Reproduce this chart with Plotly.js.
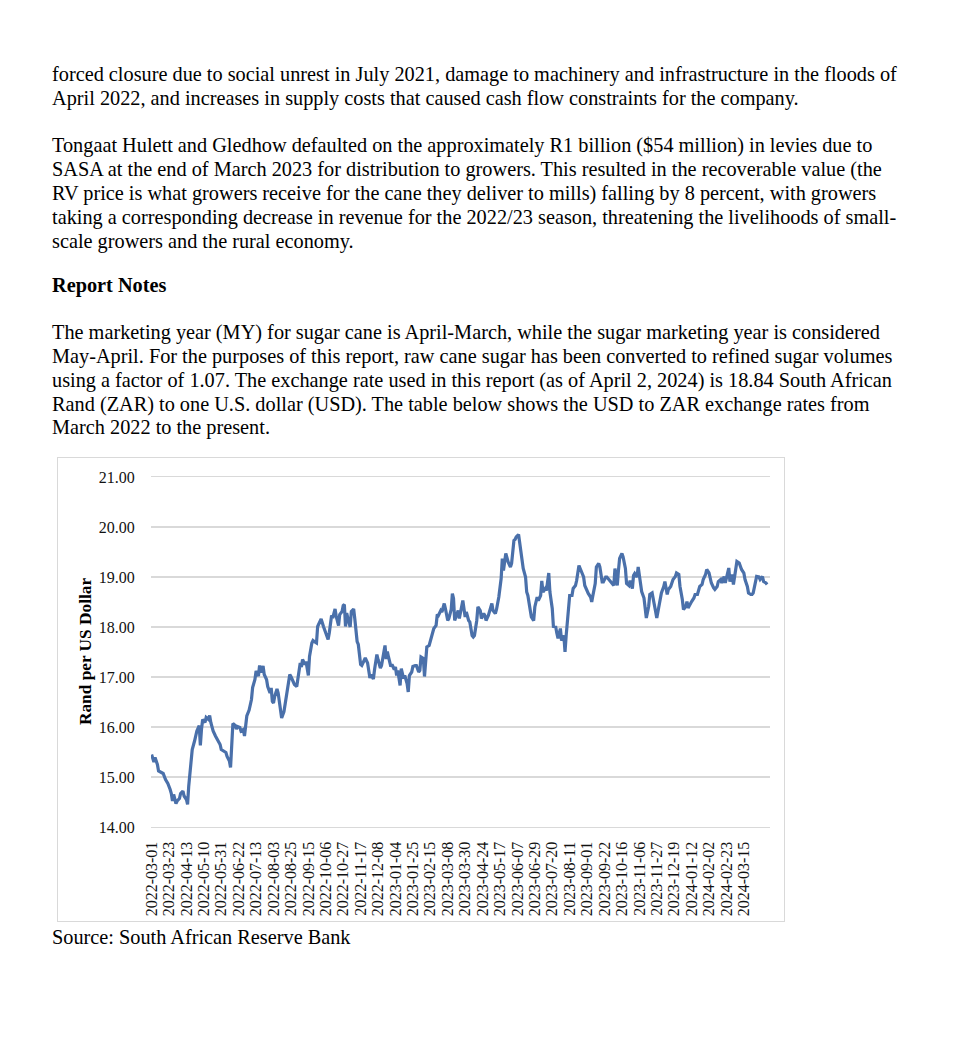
<!DOCTYPE html>
<html>
<head>
<meta charset="utf-8">
<script src="https://cdn.plot.ly/plotly-3.0.1.min.js"></script>
<style>
  html, body { margin: 0; padding: 0; background: #fff; }
  body { width: 980px; height: 1052px; position: relative; overflow: hidden;
         font-family: "Liberation Serif", "Times New Roman", serif; color: #000; }
  .ln { position: absolute; left: 52px; font-size: 20.3px; line-height: 24px; white-space: pre; }
  .b { font-weight: bold; }
  #box { position: absolute; left: 57px; top: 457px; width: 726px; height: 463px;
         border: 1px solid #d9d9d9; }
  #chart { width: 726px; height: 463px; }
</style>
</head>
<body>
<div class="ln" style="top:62px">forced closure due to social unrest in July 2021, damage to machinery and infrastructure in the floods of</div>
<div class="ln" style="top:86px">April 2022, and increases in supply costs that caused cash flow constraints for the company.</div>
<div class="ln" style="top:133px">Tongaat Hulett and Gledhow defaulted on the approximately R1 billion ($54 million) in levies due to</div>
<div class="ln" style="top:157px">SASA at the end of March 2023 for distribution to growers. This resulted in the recoverable value (the</div>
<div class="ln" style="top:181px">RV price is what growers receive for the cane they deliver to mills) falling by 8 percent, with growers</div>
<div class="ln" style="top:205px">taking a corresponding decrease in revenue for the 2022/23 season, threatening the livelihoods of small-</div>
<div class="ln" style="top:229px">scale growers and the rural economy.</div>
<div class="ln b" style="top:273px">Report Notes</div>
<div class="ln" style="top:320px">The marketing year (MY) for sugar cane is April-March, while the sugar marketing year is considered</div>
<div class="ln" style="top:344px">May-April. For the purposes of this report, raw cane sugar has been converted to refined sugar volumes</div>
<div class="ln" style="top:368px">using a factor of 1.07. The exchange rate used in this report (as of April 2, 2024) is 18.84 South African</div>
<div class="ln" style="top:392px">Rand (ZAR) to one U.S. dollar (USD). The table below shows the USD to ZAR exchange rates from</div>
<div class="ln" style="top:415px">March 2022 to the present.</div>
<div id="box"><div id="chart"></div></div>
<div class="ln" style="top:925px">Source: South African Reserve Bank</div>
<script>
// Trading-day number (0 = 2022-03-01) of each sampled observation
const dayIndex = [0,2,3,5,6,8,10,12,14,16,17,18,19,21,22,24,25,27,28,30,31,32,34,35,37,38,39,41,42,43,44,46,47,49,50,51,52,53,55,57,59,60,62,64,65,66,67,68,69,70,72,73,74,76,77,79,80,81,82,84,86,87,89,90,92,93,94,96,97,
99,100,102,103,104,105,106,108,109,110,111,112,114,115,116,118,119,120,122,123,125,126,128,129,130,132,133,135,136,138,139,140,142,143,145,146,148,149,151,152,153,154,155,156,158,159,161,162,164,165,166,167,168,169,171,172,174,175,176,177,178,179,180,181,183,184,186,187,188,189,191,192,194,195,197,198,199,201,202,203,204,206,207,209,
210,211,212,214,215,217,218,220,221,222,224,225,227,228,230,231,232,234,235,236,237,239,240,242,243,245,246,247,249,250,252,253,255,256,258,259,260,261,263,264,265,267,268,270,271,273,274,276,277,278,280,281,283,284,286,287,288,290,291,293,294,296,297,299,
301,302,303,305,307,309,310,312,313,314,316,317,319,320,322,323,324,326,327,329,330,332,333,335,336,337,339,340,342,343,345,346,348,349,350,352,353,355,356,357,359,360,362,
363,365,366,368,369,370,372,373,375,376,378,379,380,382,383,385,386,388,389,391,392,393,395,396,398,399,401,402,403,405,406,408,409,411,412,414,415,416,418,419,421,
422,424,425,426,428,429,431,432,434,435,437,438,439,441,442,444,445,447,448,449,451,452,454,455,457,458,460,461,462,464,465,467,468,470,471,472,474,475,477,478,480,481,482,484,485,487,488,490,491,493,494,495,497,498,500,501,503,504,506,507,508,510,511,513,514,516,517,518,520,521,523,524,526,527,529,530];

// Rand per US dollar at each observation
const randPerUsd = [15.45,15.30,15.39,15.25,15.12,15.09,15.07,14.95,14.87,14.75,14.67,14.52,14.65,14.47,14.52,14.57,14.67,14.72,14.62,14.55,14.45,14.82,15.22,15.55,15.72,15.82,15.92,16.03,15.63,15.96,16.15,16.09,16.19,16.15,16.23,16.09,15.99,15.92,15.82,15.74,15.65,15.55,15.52,15.49,15.41,15.34,15.32,15.19,15.75,16.07,16.03,15.96,16.01,15.99,15.92,15.95,15.82,16.02,16.22,16.34,16.55,16.79,16.95,17.12,17.02,17.23,17.09,17.22,17.05,
16.95,16.81,16.68,16.78,16.51,16.48,16.61,16.76,16.68,16.51,16.31,16.18,16.31,16.45,16.65,16.88,17.05,17.01,16.91,16.85,16.81,17.01,17.28,17.20,17.35,17.25,17.31,17.03,17.41,17.68,17.73,17.71,17.68,18.01,18.11,18.16,18.01,17.95,17.85,17.75,17.88,18.11,18.23,18.18,18.36,18.21,18.03,18.25,18.31,18.43,18.45,18.01,18.28,18.18,18.00,18.31,18.36,18.16,17.88,17.71,17.65,17.35,17.25,17.23,17.31,17.38,17.28,17.15,16.98,17.05,16.96,17.15,17.45,17.35,17.18,17.23,17.38,17.63,17.36,17.51,17.40,17.21,17.25,17.15,
17.20,17.03,17.13,16.83,17.17,16.97,17.03,16.87,16.70,17.03,17.10,17.21,17.23,17.23,17.10,17.13,17.40,17.37,17.01,17.37,17.60,17.63,17.73,17.93,17.97,18.03,18.25,18.23,18.33,18.30,18.47,18.37,18.13,18.17,18.35,18.67,18.57,18.13,18.27,18.33,18.17,18.43,18.53,18.20,18.30,18.13,18.10,17.83,17.80,17.83,18.13,18.40,18.33,18.17,18.27,18.23,18.13,18.23,18.33,18.47,18.33,18.27,18.35,18.60,
18.97,19.37,19.13,19.47,19.30,19.20,19.27,19.73,19.75,19.80,19.85,19.67,19.33,19.17,19.00,18.70,18.63,18.37,18.20,18.13,18.40,18.60,18.53,18.63,18.92,18.70,18.77,18.73,19.08,18.70,18.37,18.01,18.00,17.87,17.77,17.97,17.73,17.83,17.50,17.83,18.27,18.63,18.63,
18.77,18.83,18.93,19.23,19.17,19.10,19.00,18.83,18.70,18.67,18.60,18.50,18.63,18.87,19.20,19.27,19.20,18.90,18.90,19.00,19.00,18.97,18.90,18.87,18.83,19.17,18.83,19.13,19.37,19.47,19.40,19.17,18.87,18.83,18.93,18.77,19.03,19.07,19.00,19.20,18.93,
18.71,18.58,18.41,18.18,18.41,18.65,18.68,18.58,18.31,18.18,18.45,18.55,18.68,18.81,18.91,18.65,18.75,18.81,18.88,18.95,19.01,19.08,19.05,18.81,18.55,18.35,18.41,18.51,18.38,18.48,18.51,18.58,18.65,18.65,18.75,18.81,18.85,18.95,19.05,19.15,19.08,18.95,18.88,18.78,18.75,18.81,18.91,18.95,18.88,19.01,18.88,18.98,19.18,18.91,19.05,18.85,19.15,19.31,19.28,19.18,19.15,19.08,18.95,18.81,18.68,18.65,18.65,18.68,18.88,19.01,19.00,18.95,19.01,18.91,18.88,18.85];

// Category labels shown on the x axis (every 15th trading day)
const tickLabels = ["2022-03-01","2022-03-23","2022-04-13","2022-05-10","2022-05-31","2022-06-22","2022-07-13","2022-08-03","2022-08-25","2022-09-15","2022-10-06","2022-10-27","2022-11-17","2022-12-08","2023-01-04","2023-01-25","2023-02-15","2023-03-08","2023-03-30","2023-04-24","2023-05-17","2023-06-07","2023-06-29","2023-07-20","2023-08-11","2023-09-01","2023-09-22","2023-10-16","2023-11-06","2023-11-27","2023-12-19","2024-01-12","2024-02-02","2024-02-23","2024-03-15"];
const tickStep = 15;
const nCategories = 533;

const yTicks = [14, 15, 16, 17, 18, 19, 20, 21];

const serif = "Liberation Serif, Times New Roman, serif";
const gridGrey = "#d9d9d9";

const trace = {
  x: dayIndex,
  y: randPerUsd,
  type: "scatter",
  mode: "lines",
  line: { color: "#4a70aa", width: 3.2 },
  hoverinfo: "skip"
};

const layout = {
  width: 726, height: 463,
  margin: { l: 93, r: 14, t: 19, b: 94, pad: 0 },
  paper_bgcolor: "#ffffff",
  plot_bgcolor: "#ffffff",
  showlegend: false,
  font: { family: serif, color: "#111", size: 16 },
  xaxis: {
    type: "linear",
    range: [-0.5, nCategories - 0.5],
    tickmode: "array",
    tickvals: tickLabels.map((_, i) => i * tickStep),
    ticktext: tickLabels,
    tickangle: -90,
    tickfont: { family: serif, size: 16, color: "#111" },
    ticks: "outside", ticklen: 7, tickcolor: "rgba(0,0,0,0)",
    showgrid: false, zeroline: false,
    showline: true, mirror: true, linecolor: gridGrey, linewidth: 1.3,
    fixedrange: true
  },
  yaxis: {
    range: [14, 21],
    tickmode: "array",
    tickvals: yTicks,
    ticktext: yTicks.map(v => v.toFixed(2)),
    tickfont: { family: serif, size: 16, color: "#111" },
    ticks: "outside", ticklen: 12, tickcolor: "rgba(0,0,0,0)",
    showgrid: true, gridcolor: gridGrey, gridwidth: 1.3,
    zeroline: false, showline: false,
    fixedrange: true
  },
  annotations: [{
    text: "<b>Rand per US Dollar</b>",
    xref: "paper", yref: "paper", x: 0, y: 0.5,
    xanchor: "center", yanchor: "middle",
    xshift: -66, textangle: -90, showarrow: false,
    font: { family: serif, size: 17.3, color: "#000" }
  }]
};

Plotly.newPlot("chart", [trace], layout, { staticPlot: true, displayModeBar: false });
</script>
</body>
</html>
